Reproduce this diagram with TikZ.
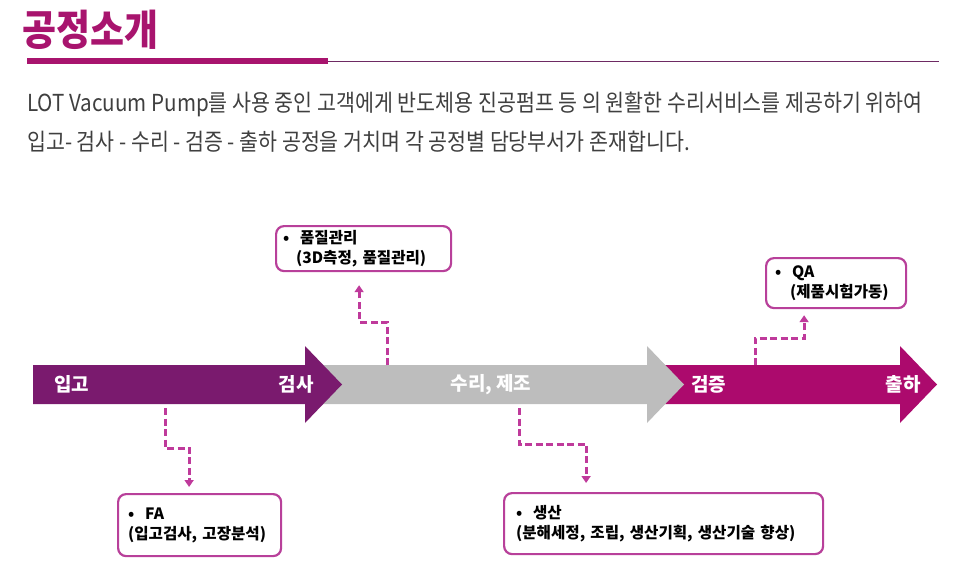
\documentclass[tikz,border=0pt]{standalone}
\usepackage{fontspec}
\setmainfont{Noto Sans CJK KR}
\newfontfamily\narrowfont{Noto Sans CJK KR}[FakeStretch=0.88]
\usepackage{tikz}
\usetikzlibrary{arrows.meta,positioning,calc}
\definecolor{TitleMagenta}{HTML}{A8146E}
\definecolor{RulePurple}{HTML}{6E2A63}
\definecolor{BodyGray}{HTML}{3F3F3F}
\definecolor{StepPurple}{HTML}{7A1A6E}
\definecolor{StepGray}{HTML}{BDBDBD}
\definecolor{StepMagenta}{HTML}{AC0A6D}
\definecolor{BoxPink}{HTML}{B8409A}
\definecolor{LinkPink}{HTML}{BF3A9B}
\newcommand{\bul}{\makebox[17pt][l]{\textbullet}}

\begin{document}
\begin{tikzpicture}[
  x=1pt,y=-1pt,
  headline/.style={anchor=base west,inner sep=0,text=TitleMagenta,font=\narrowfont\bfseries\fontsize{42}{46}\selectfont},
  lead/.style={anchor=base west,inner sep=0,text=BodyGray,font=\narrowfont\fontsize{23.4}{27}\selectfont},
  steplabel/.style={inner sep=0,text=white,font=\bfseries\fontsize{19}{22}\selectfont},
  infobox/.style={draw=BoxPink,line width=2.2pt,rounded corners=8pt,fill=white,align=left,anchor=north west,inner ysep=0pt,font=\bfseries\fontsize{15.6}{20}\selectfont},
  link/.style={draw=LinkPink,line width=3pt,dash pattern=on 7pt off 3.5pt,-{Triangle[length=7pt,width=9pt]}}
]
\useasboundingbox (0,0) rectangle (964,583);
\node[headline] (head) at (22,46) {공정소개};
\fill[TitleMagenta] (27,58) rectangle (328,64);
\draw[RulePurple,line width=1pt] (328,62) -- (939,62);
\node[lead] (lead1) at (27,112) {LOT Vacuum Pump를 사용 중인 고객에게 반도체용 진공펌프 등 의 원활한 수리서비스를 제공하기 위하여};
\node[lead] (lead2) at (27,150) {입고- 검사 - 수리 - 검증 - 출하 공정을 거치며 각 공정별 담당부서가 존재합니다.};
\foreach \c/\a/\b in {StepMagenta/660/900,StepGray/320/647,StepPurple/33/305}
  \fill[\c] (\a,365) -- (\b,365) -- (\b,346) -- ({\b+37},384.5) -- (\b,423) -- (\b,404) -- (\a,404) -- cycle;
\node[steplabel,anchor=west] (inbound) at (54,384.5) {입고};
\node[steplabel,anchor=east] (inspect) at (314,384.5) {검사};
\node[steplabel] (repair) at (491,384.5) {수리, 제조};
\node[steplabel,anchor=west] (verify) at (691,384.5) {검증};
\node[steplabel,anchor=east] (ship) at (921,384.5) {출하};
\node[infobox,inner xsep=7pt,text width=161pt,minimum height=45pt] (qc) at (275,225) {\bul 품질관리\\\hspace{13pt}(3D측정, 품질관리)};
\node[infobox,inner xsep=9pt,text width=122pt,minimum height=50pt] (qa) at (765,257) {\bul QA\\\hspace{15pt}(제품시험가동)};
\node[infobox,inner xsep=10pt,text width=143pt,minimum height=62pt] (fa) at (117,493) {\bul FA\\(입고검사, 고장분석)};
\node[infobox,inner xsep=12pt,text width=295pt,minimum height=61pt] (prod) at (503,492) {\bul 생산\\(분해세정, 조립, 생산기획, 생산기술 향상)};
\coordinate (qcFoot) at (387,365);
\coordinate (qaFoot) at (755,365);
\coordinate (faFoot) at (165,408);
\coordinate (prodFoot) at (519,408);
\draw[link,shorten >=13pt] (qcFoot) -- ++(0,-43) -| ([xshift=-4.5pt]qc.south);
\draw[link,shorten >=6pt] (qaFoot) -- ++(0,-27) -| ([xshift=-32pt]qa.south);
\draw[link,shorten >=6pt] (faFoot) -- ++(0,40) -| ([xshift=-10.5pt]fa.north);
\draw[link,shorten >=9pt] (prodFoot) -- ++(0,36) -| ([xshift=-77.5pt]prod.north);
\end{tikzpicture}
\end{document}
